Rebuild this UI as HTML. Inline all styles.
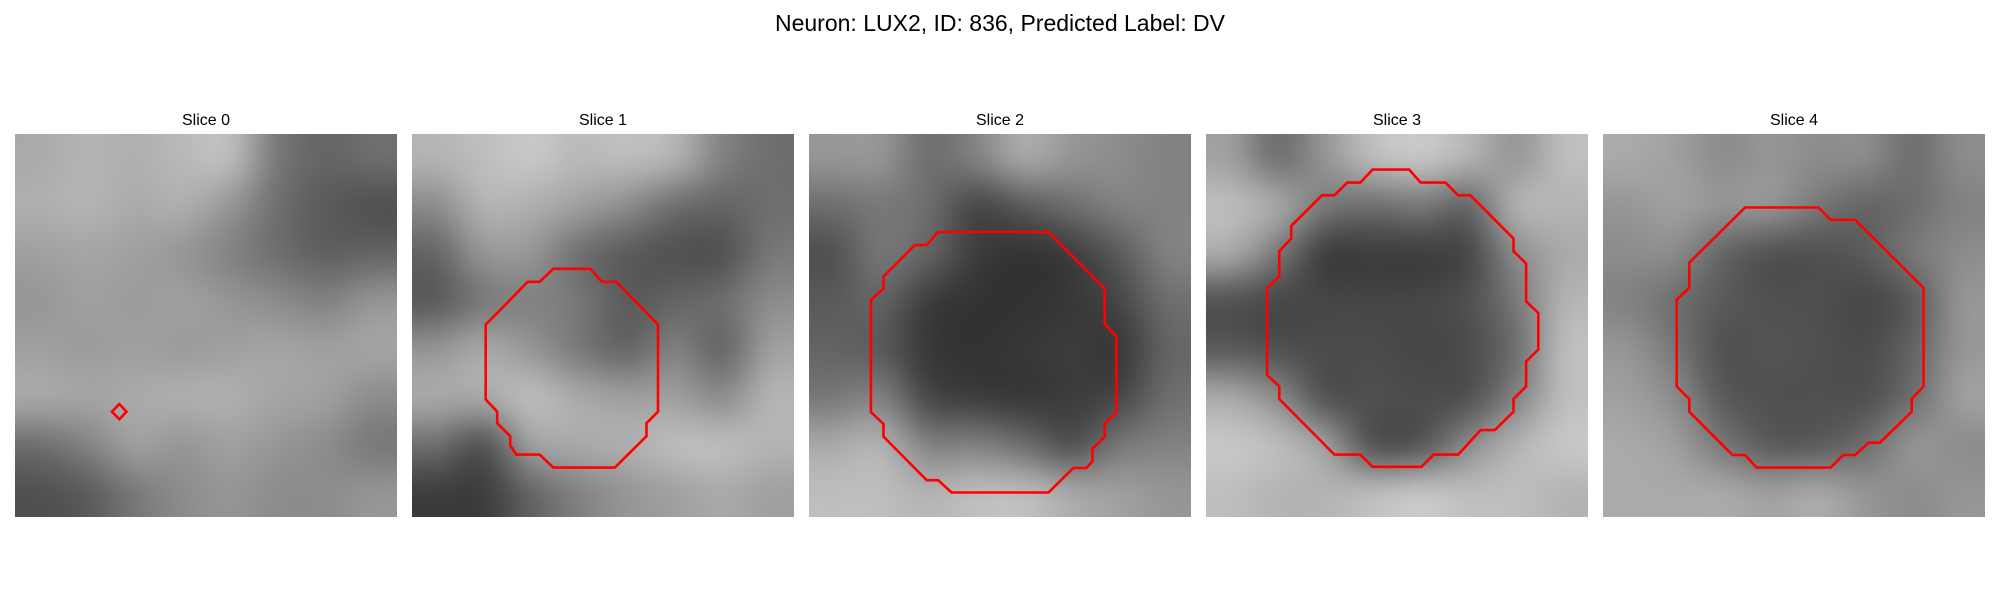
<!DOCTYPE html>
<html>
<head>
<meta charset="utf-8">
<style>
  html,body{margin:0;padding:0;background:#fff;}
  #root{position:relative;width:2000px;height:600px;overflow:hidden;background:#fff;font-family:"Liberation Sans",sans-serif;}
  .suptitle{position:absolute;left:0;width:2000px;top:10px;text-align:center;font-size:23px;color:#000;}
  .ptitle{position:absolute;width:382px;text-align:center;font-size:16px;color:#000;top:112px;}
  canvas.img{position:absolute;top:134px;width:382px;height:383px;}
  svg.ov{position:absolute;top:134px;width:382px;height:383px;}
</style>
</head>
<body>
<div id="root">
  <div class="suptitle">Neuron: LUX2, ID: 836, Predicted Label: DV</div>
</div>
<script>
const sliceTitles = ["Slice 0","Slice 1","Slice 2","Slice 3","Slice 4"];
const panelLeft = [15, 412, 809, 1206, 1603];

const gray0 = [
[170,180,175,185,190,120,100,110],[175,180,170,175,150,110,90,80],[160,165,160,150,130,110,95,100],[150,160,155,160,150,140,130,150],
[160,155,160,155,160,165,160,165],[170,165,170,175,175,165,160,140],[110,130,160,150,160,150,140,120],[80,90,120,140,150,140,140,150]];
const gray1 = [
[180,190,200,185,190,180,130,110],[140,180,175,160,140,110,100,110],[100,150,150,110,90,80,80,120],[90,120,130,120,90,100,110,140],
[150,170,150,120,100,130,100,160],[170,170,190,170,160,160,140,180],[110,80,160,170,175,190,190,180],[60,60,100,130,150,160,170,160]];
const gray2 = [
[150,150,110,130,170,150,140,130],[110,120,110,70,90,110,130,130],[80,120,100,60,50,60,90,130],[90,100,60,50,50,55,70,110],
[100,90,55,50,55,60,55,100],[120,130,70,60,55,60,70,110],[170,180,130,130,110,80,120,130],[190,190,180,190,190,170,160,150]];
const gray3 = [
[160,110,150,190,200,180,150,190],[190,170,120,110,120,100,180,180],[170,120,60,60,60,70,140,170],[80,70,70,70,70,80,120,180],
[90,80,75,75,70,75,110,190],[170,140,80,80,75,80,130,190],[200,190,160,80,85,140,180,200],[190,180,180,190,200,190,190,180]];
const gray4 = [
[170,160,140,150,140,140,110,140],[150,160,150,150,120,100,110,130],[140,140,100,80,80,90,120,140],[130,110,90,80,80,70,90,150],
[150,120,80,85,80,75,100,150],[160,140,90,80,80,80,110,160],[170,160,120,90,90,110,150,140],[170,170,170,160,170,150,140,150]];
const grays = [gray0, gray1, gray2, gray3, gray4];

const contour0 = [[0.273,0.705],[0.292,0.725],[0.273,0.745],[0.254,0.725]];
const contour1 = [[0.370,0.352],[0.467,0.352],[0.497,0.386],[0.535,0.386],[0.644,0.498],[0.644,0.725],[0.614,0.755],[0.614,0.789],[0.531,0.871],[0.370,0.871],[0.334,0.837],[0.273,0.837],[0.257,0.813],[0.257,0.789],[0.223,0.755],[0.223,0.725],[0.193,0.693],[0.193,0.498],[0.303,0.386],[0.334,0.386]];
const contour2 = [[0.338,0.256],[0.627,0.256],[0.774,0.404],[0.774,0.496],[0.805,0.529],[0.805,0.726],[0.774,0.757],[0.774,0.790],[0.742,0.822],[0.742,0.855],[0.726,0.872],[0.692,0.872],[0.627,0.936],[0.373,0.936],[0.338,0.904],[0.308,0.904],[0.195,0.790],[0.195,0.757],[0.162,0.726],[0.162,0.433],[0.195,0.404],[0.195,0.372],[0.277,0.290],[0.308,0.290]];
const contour3 = [[0.436,0.093],[0.532,0.093],[0.562,0.127],[0.627,0.127],[0.660,0.160],[0.692,0.160],[0.805,0.273],[0.805,0.306],[0.838,0.338],[0.838,0.437],[0.870,0.467],[0.870,0.563],[0.838,0.594],[0.838,0.659],[0.805,0.692],[0.805,0.725],[0.756,0.773],[0.719,0.773],[0.660,0.837],[0.596,0.837],[0.564,0.869],[0.436,0.869],[0.404,0.837],[0.336,0.837],[0.192,0.692],[0.192,0.659],[0.160,0.629],[0.160,0.402],[0.192,0.371],[0.192,0.306],[0.223,0.273],[0.223,0.240],[0.304,0.160],[0.336,0.160],[0.370,0.127],[0.404,0.127]];
const contour4 = [[0.372,0.192],[0.564,0.192],[0.596,0.224],[0.660,0.224],[0.839,0.402],[0.839,0.659],[0.808,0.692],[0.808,0.725],[0.725,0.806],[0.695,0.806],[0.660,0.838],[0.629,0.838],[0.596,0.871],[0.402,0.871],[0.372,0.838],[0.339,0.838],[0.226,0.725],[0.226,0.692],[0.193,0.659],[0.193,0.432],[0.226,0.402],[0.226,0.336]];
const contours = [contour0, contour1, contour2, contour3, contour4];

const root = document.getElementById('root');
const W = 382, H = 383;
const sx = f => f * W;
const sy = f => f * H;

sliceTitles.forEach((t, i) => {
  const title = document.createElement('div');
  title.className = 'ptitle';
  title.style.left = panelLeft[i] + 'px';
  title.textContent = t;
  
  
  root.appendChild(title);

  const g = grays[i];
  const n = g.length;
  const small = document.createElement('canvas');
  small.width = n; small.height = n;
  const sctx = small.getContext('2d');
  const id = sctx.createImageData(n, n);
  for (let r = 0; r < n; r++) for (let c = 0; c < n; c++) {
    const k = (r * n + c) * 4, v = g[r][c];
    id.data[k] = v; id.data[k+1] = v; id.data[k+2] = v; id.data[k+3] = 255;
  }
  sctx.putImageData(id, 0, 0);
  const cv = document.createElement('canvas');
  cv.className = 'img';
  cv.width = W; cv.height = H;
  cv.style.left = panelLeft[i] + 'px';
  const ctx = cv.getContext('2d');
  ctx.imageSmoothingEnabled = true;
  ctx.imageSmoothingQuality = 'high';
  ctx.drawImage(small, 0, 0, W, H);
  
  
  root.appendChild(cv);

  const NS = 'http://www.w3.org/2000/svg';
  const svg = document.createElementNS(NS, 'svg');
  svg.setAttribute('class', 'ov');
  svg.setAttribute('viewBox', '0 0 ' + W + ' ' + H);
  svg.style.left = panelLeft[i] + 'px';
  
  
  const poly = document.createElementNS(NS, 'polygon');
  poly.setAttribute('points', contours[i].map(p => sx(p[0]).toFixed(1) + ',' + sy(p[1]).toFixed(1)).join(' '));
  poly.setAttribute('fill', 'none');
  poly.setAttribute('stroke', '#ff0000');
  poly.setAttribute('stroke-width', '2.6');
  
  
  svg.appendChild(poly);
  root.appendChild(svg);
});
</script>
</body>
</html>
